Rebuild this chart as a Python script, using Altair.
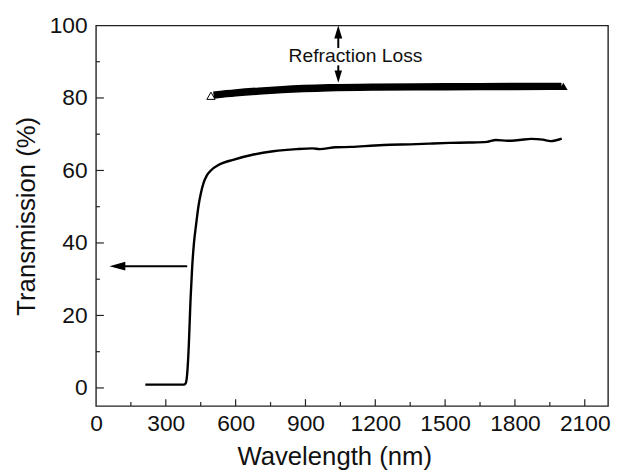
import altair as alt
import pandas as pd

# ---- data ----
wl = [212, 300, 377, 385, 392, 399, 406, 413, 421, 430, 440, 450, 462, 477, 497, 526, 593,
      677, 761, 862, 930, 962, 1030, 1097, 1198, 1265, 1350, 1433, 1520, 1601, 1680,
      1718, 1769, 1820, 1870, 1920, 1953, 2001]
trans = [0.9, 0.9, 0.9, 1.2, 4.0, 12.0, 24.0, 33.0, 40.0, 45.0, 50.0, 53.5, 56.5, 58.7,
         60.2, 61.5, 63.0, 64.4, 65.3, 65.9, 66.1, 65.9, 66.4, 66.5, 66.9, 67.1, 67.2,
         67.4, 67.6, 67.7, 67.9, 68.4, 68.2, 68.4, 68.7, 68.5, 68.1, 68.8]

band_wl = [505, 600, 700, 800, 1000, 1200, 1500, 1800, 2000]
band_t = [80.8, 81.4, 81.9, 82.3, 82.8, 83.0, 83.1, 83.15, 83.2]
band_start = [494, 80.6]
band_end = [2008, 83.2]

x_major = [0, 300, 600, 900, 1200, 1500, 1800, 2100]
x_minor = [150, 450, 750, 1050, 1350, 1650, 1950]
y_major = [0, 20, 40, 60, 80, 100]
y_minor = [10, 30, 50, 70, 90]

# annotations
loss_x = 1041
loss_up = [93.8, 100]
loss_down = [89.0, 84.3]
loss_label = ["Refraction Loss", 1115, 90.0]
left_arrow_y = 33.6
left_arrow_x = [392, 60]

X_DOM = [0, 2200]
Y_DOM = [-5, 100]
FONT = "Liberation Sans"
W, H = 518, 385

xs = alt.Scale(domain=X_DOM, nice=False, zero=False)
ys = alt.Scale(domain=Y_DOM, nice=False, zero=False)

xaxis = alt.Axis(values=x_major, format="d", ticks=False, domain=False, grid=False,
                 labelFontSize=23, labelPadding=7, labelFont=FONT, labelColor="#111",
                 title="Wavelength (nm)", titleFontSize=26, titleFont=FONT,
                 titleFontWeight="normal", titlePadding=8, titleColor="#111",
                 titleX=241, titleAlign="center", titleAnchor="middle",
                 labelFlush=False, labelOverlap=False)
yaxis = alt.Axis(values=y_major, format="d", ticks=False, domain=False, grid=False,
                 labelFontSize=23, labelPadding=9, labelFont=FONT, labelColor="#111",
                 title="Transmission (%)", titleFontSize=26, titleFont=FONT,
                 titleFontWeight="normal", titlePadding=10, titleColor="#111",
                 labelFlush=False, labelOverlap=False)

def X(f="x"):
    return alt.X(f"{f}:Q", scale=xs, axis=xaxis)

def Y(f="y"):
    return alt.Y(f"{f}:Q", scale=ys, axis=yaxis)

curve = alt.Chart(pd.DataFrame({"x": wl, "y": trans})).mark_line(
    color="black", strokeWidth=2.4, interpolate="monotone").encode(x=X(), y=Y())

band = alt.Chart(pd.DataFrame({"x": band_wl, "y": band_t})).mark_line(
    color="black", strokeWidth=7.5, strokeCap="butt", interpolate="monotone").encode(x=X(), y=Y())

band_l = alt.Chart(pd.DataFrame({"x": [band_start[0]], "y": [band_start[1]]})).mark_point(
    shape="triangle-up", filled=True, fill="white", stroke="black", strokeWidth=1,
    size=70, opacity=1).encode(x=X(), y=Y())
band_r = alt.Chart(pd.DataFrame({"x": [band_end[0]], "y": [band_end[1]]})).mark_point(
    shape="triangle-up", filled=True, color="black", size=75, opacity=1).encode(x=X(), y=Y())

loss_df = pd.DataFrame({"x": [loss_x, loss_x], "y": [loss_up[0], loss_down[0]],
                        "y2": [loss_up[1] - 2.5, loss_down[1] + 2.5]})
loss_rules = alt.Chart(loss_df).mark_rule(color="black", strokeWidth=2).encode(
    x=X(), y=Y(), y2="y2:Q")
up_head = alt.Chart(pd.DataFrame({"x": [loss_x], "y": [loss_up[1] - 1.8]})).mark_point(
    shape="M0,-1L-0.62,1L0.62,1Z", filled=True, color="black", size=170, opacity=1).encode(x=X(), y=Y())
down_head = alt.Chart(pd.DataFrame({"x": [loss_x], "y": [loss_down[1] + 1.6]})).mark_point(
    shape="M0,1L-0.62,-1L0.62,-1Z", filled=True, color="black", size=150, opacity=1).encode(x=X(), y=Y())

label = alt.Chart(pd.DataFrame({"x": [loss_label[1]], "y": [loss_label[2]], "t": [loss_label[0]]})).mark_text(
    fontSize=19.5, font=FONT, color="#111", align="center", baseline="alphabetic").encode(
    x=X(), y=Y(), text="t:N")

left_rule = alt.Chart(pd.DataFrame({"x": [left_arrow_x[0]], "x2": [left_arrow_x[1] + 40], "y": [left_arrow_y]})).mark_rule(
    color="black", strokeWidth=2).encode(x=X(), x2="x2:Q", y=Y())
left_head = alt.Chart(pd.DataFrame({"x": [left_arrow_x[1] + 32], "y": [left_arrow_y]})).mark_point(
    shape="M-1,0L1,-0.56L1,0.56Z", filled=True, color="black", size=256, opacity=1).encode(x=X(), y=Y())

# inward ticks
xticks_major = alt.Chart(pd.DataFrame({"x": x_major[1:]})).mark_rule(color="#222", strokeWidth=1.2).encode(
    x=X(), y=alt.value(H), y2=alt.value(H - 7))
xticks_minor = alt.Chart(pd.DataFrame({"x": x_minor})).mark_rule(color="#222", strokeWidth=1.2).encode(
    x=X(), y=alt.value(H), y2=alt.value(H - 4))
yticks_major = alt.Chart(pd.DataFrame({"y": y_major[:-1]})).mark_rule(color="#222", strokeWidth=1.2).encode(
    y=Y(), x=alt.value(0), x2=alt.value(8))
yticks_minor = alt.Chart(pd.DataFrame({"y": y_minor})).mark_rule(color="#222", strokeWidth=1.2).encode(
    y=Y(), x=alt.value(0), x2=alt.value(4))

chart = alt.layer(
    xticks_major, xticks_minor, yticks_major, yticks_minor,
    curve, band, band_l, band_r, loss_rules, up_head, down_head, label, left_rule, left_head
).properties(
    width=W, height=H,
    autosize=alt.AutoSizeParams(type="none"),
    padding={"left": 89, "top": 15, "right": 3, "bottom": 62},
).configure(
    background="white",
    view=alt.ViewConfig(stroke="#222", strokeWidth=1.4),
)

chart.save("out.html", embed_options={"renderer": "svg", "actions": False})
